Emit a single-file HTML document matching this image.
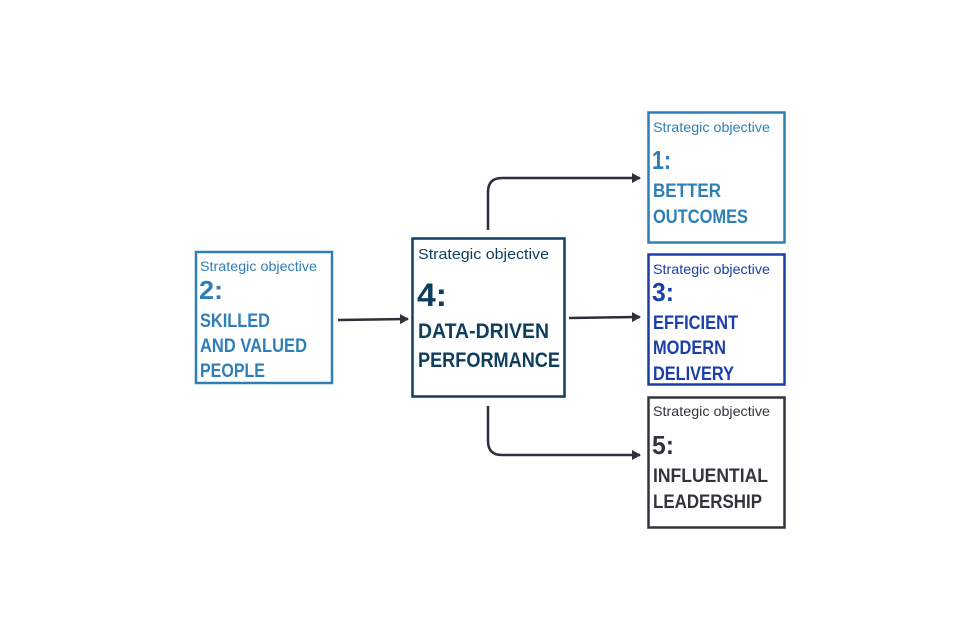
<!DOCTYPE html>
<html><head><meta charset="utf-8"><style>html,body{margin:0;padding:0;background:#fff}svg{display:block}text{font-family:"Liberation Sans",sans-serif}.s{font-size:14px}.b{font-weight:bold}</style></head><body>
<svg width="960" height="640" viewBox="0 0 960 640">
<defs><marker id="a" markerWidth="9" markerHeight="10" refX="8" refY="5" orient="auto" markerUnits="userSpaceOnUse"><path d="M0,0 L9,5 L0,10 z" fill="#2e2f3a"/></marker></defs>
<g fill="none" stroke="#2e2f3a" stroke-width="2.5">
<path d="M338,320 L408,319" marker-end="url(#a)"/>
<path d="M569,318 L640,317" marker-end="url(#a)"/>
<path d="M488,230 L488,192 Q488,178 502,178 L640,178" marker-end="url(#a)"/>
<path d="M488,406 L488,441 Q488,455 502,455 L640,455" marker-end="url(#a)"/>
</g>
<g fill="none" stroke-width="2.5">
<rect x="196" y="252" width="136" height="131" stroke="#2e7fb8"/>
<rect x="412.5" y="238.5" width="152" height="158" stroke="#0f3d5e"/>
<rect x="648.5" y="112.5" width="136" height="130" stroke="#2e7fb8"/>
<rect x="648.5" y="254.5" width="136" height="130" stroke="#1a3faa"/>
<rect x="648.5" y="397.5" width="136" height="130" stroke="#33333d"/>
</g>
<g fill="#2e7fb8">
<text class="s" x="200" y="271" textLength="117" lengthAdjust="spacingAndGlyphs">Strategic objective</text>
<text class="b" x="199" y="299" font-size="26" textLength="24" lengthAdjust="spacingAndGlyphs">2:</text>
<text class="b" x="200" y="327" font-size="19" textLength="70" lengthAdjust="spacingAndGlyphs">SKILLED</text>
<text class="b" x="200" y="352" font-size="19" textLength="107" lengthAdjust="spacingAndGlyphs">AND VALUED</text>
<text class="b" x="200" y="377" font-size="19" textLength="65" lengthAdjust="spacingAndGlyphs">PEOPLE</text>
<text class="s" x="653" y="132" textLength="117" lengthAdjust="spacingAndGlyphs">Strategic objective</text>
<text class="b" x="652" y="169" font-size="26" textLength="19" lengthAdjust="spacingAndGlyphs">1:</text>
<text class="b" x="653" y="197" font-size="19" textLength="68" lengthAdjust="spacingAndGlyphs">BETTER</text>
<text class="b" x="653" y="223" font-size="19" textLength="95" lengthAdjust="spacingAndGlyphs">OUTCOMES</text>
</g>
<g fill="#0f3d5e">
<text x="418" y="259" font-size="15" textLength="131" lengthAdjust="spacingAndGlyphs">Strategic objective</text>
<text class="b" x="417" y="306" font-size="32" textLength="30" lengthAdjust="spacingAndGlyphs">4:</text>
<text class="b" x="418" y="338" font-size="21" textLength="131" lengthAdjust="spacingAndGlyphs">DATA-DRIVEN</text>
<text class="b" x="418" y="367" font-size="21" textLength="142" lengthAdjust="spacingAndGlyphs">PERFORMANCE</text>
</g>
<g fill="#1a3faa">
<text class="s" x="653" y="274" textLength="117" lengthAdjust="spacingAndGlyphs">Strategic objective</text>
<text class="b" x="652" y="301" font-size="26" textLength="22" lengthAdjust="spacingAndGlyphs">3:</text>
<text class="b" x="653" y="329" font-size="19" textLength="85" lengthAdjust="spacingAndGlyphs">EFFICIENT</text>
<text class="b" x="653" y="354" font-size="19" textLength="73" lengthAdjust="spacingAndGlyphs">MODERN</text>
<text class="b" x="653" y="380" font-size="19" textLength="81" lengthAdjust="spacingAndGlyphs">DELIVERY</text>
</g>
<g fill="#33333d">
<text class="s" x="653" y="416" textLength="117" lengthAdjust="spacingAndGlyphs">Strategic objective</text>
<text class="b" x="652" y="454" font-size="26" textLength="22" lengthAdjust="spacingAndGlyphs">5:</text>
<text class="b" x="653" y="482" font-size="19" textLength="115" lengthAdjust="spacingAndGlyphs">INFLUENTIAL</text>
<text class="b" x="653" y="508" font-size="19" textLength="109" lengthAdjust="spacingAndGlyphs">LEADERSHIP</text>
</g>
</svg>
</body></html>
